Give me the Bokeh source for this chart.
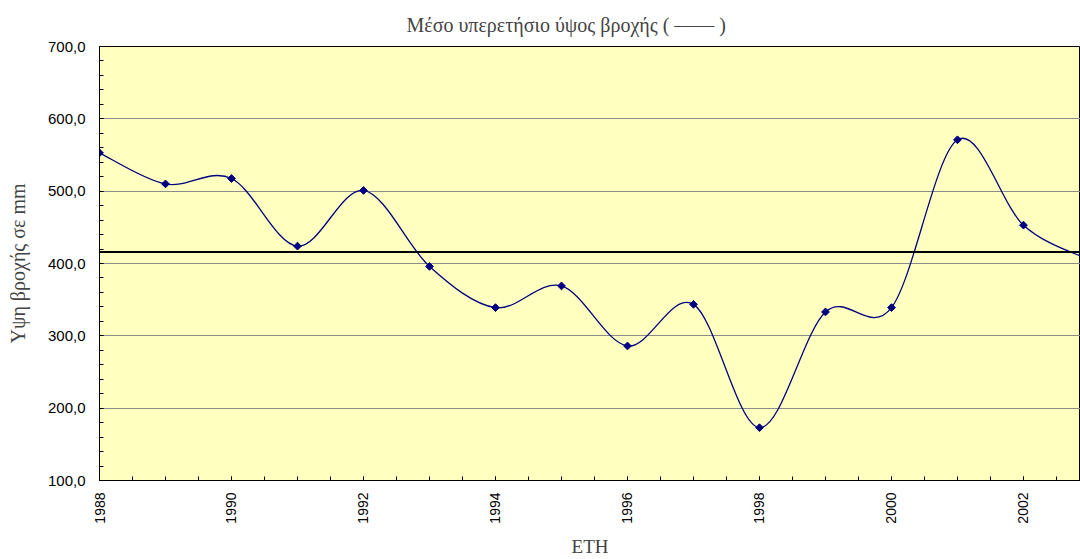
import math
from bokeh.plotting import figure
from bokeh.models import Range1d, FixedTicker, Span, ColumnDataSource
from bokeh.embed import file_html
from bokeh.resources import INLINE

# ---- data ----
years = [1988, 1989, 1990, 1991, 1992, 1993, 1994, 1995, 1996, 1997,
         1998, 1999, 2000, 2001, 2002, 2003]
rainfall = [553, 510, 517.5, 424, 501, 396, 339, 369, 286, 343.5,
            173, 333, 339, 571, 453, 405]
mean_rainfall = 416
y_ticks = [100, 200, 300, 400, 500, 600, 700]
y_tick_labels = ["100,0", "200,0", "300,0", "400,0", "500,0", "600,0", "700,0"]
x_ticks = [1988, 1990, 1992, 1994, 1996, 1998, 2000, 2002]
x_tick_labels = ["1988", "1990", "1992", "1994", "1996", "1998", "2000", "2002"]

title_text = "Μέσο υπερετήσιο ύψος βροχής ( —— )"
x_title = "ETH"
y_title = "Υψη βροχής σε mm"

# ---- smoothed line (Catmull-Rom style Bezier control points from the data) ----
n = len(years)
x0, y0, x1, y1, cx0, cy0, cx1, cy1 = [], [], [], [], [], [], [], []
for i in range(n - 1):
    a = max(i - 1, 0)
    d = min(i + 2, n - 1)
    x0.append(years[i]); y0.append(rainfall[i])
    x1.append(years[i + 1]); y1.append(rainfall[i + 1])
    cx0.append(years[i] + (years[i + 1] - years[a]) / 6.0)
    cy0.append(rainfall[i] + (rainfall[i + 1] - rainfall[a]) / 6.0)
    cx1.append(years[i + 1] - (years[d] - years[i]) / 6.0)
    cy1.append(rainfall[i + 1] - (rainfall[d] - rainfall[i]) / 6.0)
bez = ColumnDataSource(dict(x0=x0, y0=y0, x1=x1, y1=y1,
                            cx0=cx0, cy0=cy0, cx1=cx1, cy1=cy1))
pts = ColumnDataSource(dict(x=years, y=rainfall))

p = figure(width=1080, height=559, output_backend="svg", toolbar_location=None,
           x_range=Range1d(1988, 2002.864), y_range=Range1d(100, 700),
           min_border_left=99, min_border_right=0, min_border_top=46,
           min_border_bottom=77)

p.background_fill_color = "#FFFFC0"
p.border_fill_color = "white"
p.outline_line_color = "black"
p.outline_line_width = 1

# title
p.title.text = title_text
p.title.align = "left"
p.title.offset = 307
p.title.text_font = "Liberation Serif"
p.title.text_font_size = "20px"
p.title.text_font_style = "normal"
p.title.standoff = 22

# grid
p.xgrid.visible = False
p.ygrid.ticker = FixedTicker(ticks=y_ticks)
p.ygrid.grid_line_color = "#8c8c8c"
p.ygrid.grid_line_width = 1

# y axis
p.yaxis.ticker = FixedTicker(ticks=y_ticks, minor_ticks=list(range(100, 701, 20)))
p.yaxis.major_label_overrides = dict(zip(y_ticks, y_tick_labels))
p.yaxis.major_label_text_font = "Liberation Sans"
p.yaxis.major_label_text_font_size = "15px"
p.yaxis.major_label_text_color = "black"
p.yaxis.major_tick_in = 4
p.yaxis.major_tick_out = 0
p.yaxis.minor_tick_in = 4
p.yaxis.minor_tick_out = 0
p.yaxis.major_label_standoff = 14
p.yaxis.axis_label = y_title
p.yaxis.axis_label_text_font = "Liberation Serif"
p.yaxis.axis_label_text_font_size = "20px"
p.yaxis.axis_label_text_font_style = "normal"
p.yaxis.axis_label_standoff = 16
p.yaxis.axis_line_color = "black"

# x axis
p.xaxis.ticker = FixedTicker(ticks=x_ticks,
                             minor_ticks=[1988 + 0.5 * k for k in range(31)])
p.xaxis.major_label_overrides = dict(zip(x_ticks, x_tick_labels))
p.xaxis.major_label_orientation = math.pi / 2
p.xaxis.major_label_text_font = "Liberation Sans"
p.xaxis.major_label_text_font_size = "14px"
p.xaxis.major_label_text_color = "black"
p.xaxis.major_tick_in = 4
p.xaxis.major_tick_out = 0
p.xaxis.minor_tick_in = 4
p.xaxis.minor_tick_out = 0
p.xaxis.major_label_standoff = 12
p.xaxis.axis_label = x_title
p.xaxis.axis_label_text_font = "Liberation Serif"
p.xaxis.axis_label_text_font_size = "19px"
p.xaxis.axis_label_text_font_style = "normal"
p.xaxis.axis_label_standoff = 9
p.xaxis.axis_line_color = "black"

# mean line
p.add_layout(Span(location=mean_rainfall, dimension="width",
                  line_color="black", line_width=2))

# data
p.bezier(x0="x0", y0="y0", x1="x1", y1="y1", cx0="cx0", cy0="cy0",
         cx1="cx1", cy1="cy1", source=bez, line_color="#000080", line_width=1.3)
p.scatter(x="x", y="y", source=pts, marker="square", angle=math.pi / 4,
          size=5.5, fill_color="#000080", line_color="#000080")

open("out.html", "w").write(file_html(p, INLINE))
